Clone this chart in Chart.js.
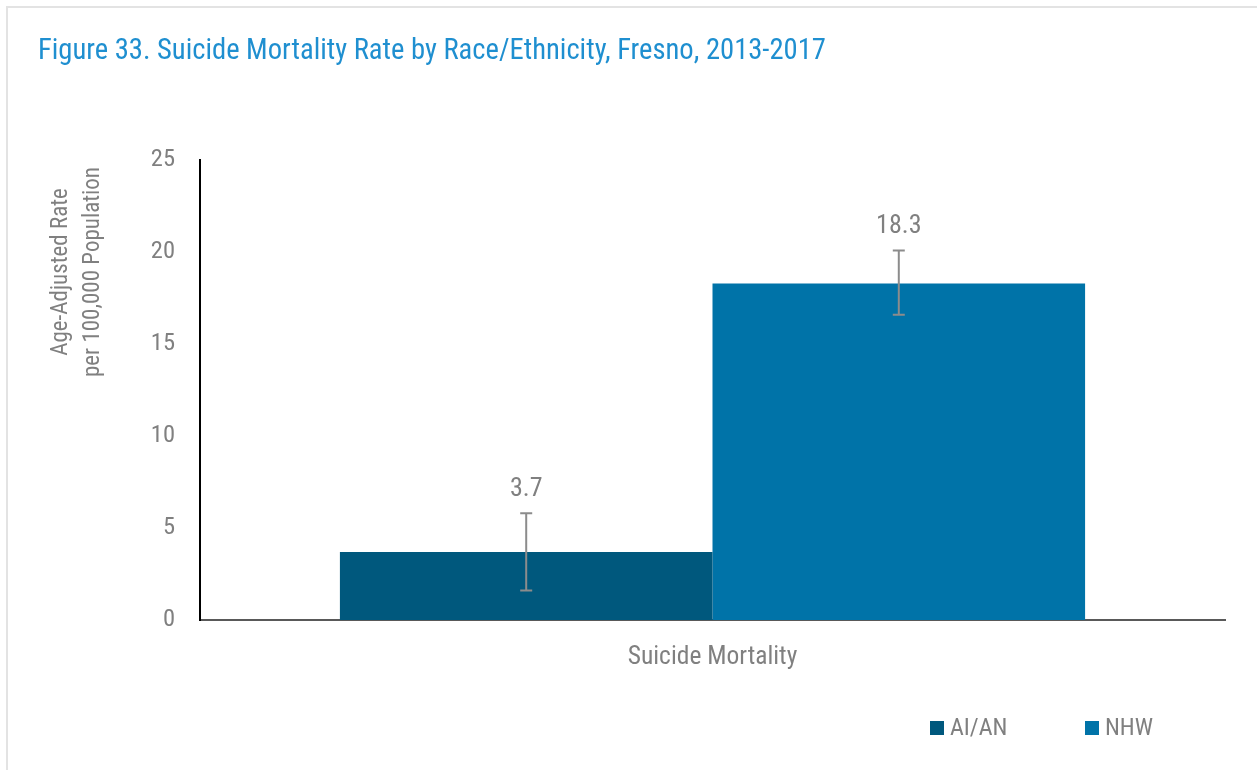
<!DOCTYPE html>
<html>
<head>
<meta charset="utf-8">
<script src="https://cdn.jsdelivr.net/npm/chart.js@4/dist/chart.umd.min.js"></script>
<style>
    body { margin: 0; background: #fff; }
    #wrap { position: relative; width: 1257px; height: 770px; }
    #frame { position: absolute; left: 6px; top: 6px; right: 0; bottom: 0;
             border-left: 2px solid #e3e3e3; border-top: 2px solid #e3e3e3; }
    canvas { position: absolute; left: 0; top: 0; }
</style>
</head>
<body>
<div id="wrap">
    <div id="frame"></div>
    <canvas id="chart" width="1257" height="770"></canvas>
</div>
<script>
const FONT = "'Roboto Condensed', 'Liberation Sans Narrow', 'Arial Narrow', sans-serif";
const GREY = "#808080";

// data
const categories = ["Suicide Mortality"];
const groups = ["AI/AN", "NHW"];
const rates = [3.7, 18.3];
const lowerCI = [1.6, 16.6];
const upperCI = [5.8, 20.1];
const groupColors = ["#00587d", "#0073a8"];
const yTicks = [0, 5, 10, 15, 20, 25];
const yTitle = ["Age-Adjusted Rate", "per 100,000 Population"];

const datasets = groups.map((g, i) => ({
    label: g,
    data: [rates[i]],
    backgroundColor: groupColors[i],
    low: lowerCI[i],
    high: upperCI[i],
    categoryPercentage: 0.727,
    barPercentage: 1.0,
}));

// error bars + value labels above them
const errorBars = {
    id: "errorBars",
    afterDatasetsDraw(chart) {
        const ctx = chart.ctx;
        const y = chart.scales.y;
        chart.data.datasets.forEach((ds, i) => {
            const bar = chart.getDatasetMeta(i).data[0];
            const x = bar.x;
            const top = y.getPixelForValue(ds.high);
            const bot = y.getPixelForValue(ds.low);
            ctx.save();
            ctx.strokeStyle = "#8c8c8c";
            ctx.lineWidth = 2;
            ctx.beginPath();
            ctx.moveTo(x, top); ctx.lineTo(x, bot);
            ctx.moveTo(x - 6, top); ctx.lineTo(x + 6, top);
            ctx.moveTo(x - 6, bot); ctx.lineTo(x + 6, bot);
            ctx.stroke();
            ctx.fillStyle = GREY;
            ctx.font = "26px " + FONT;
            ctx.textAlign = "center";
            ctx.textBaseline = "middle";
            ctx.fillText(ds.data[0].toFixed(1), x, top - 24);
            ctx.restore();
        });
    }
};

// y axis title (sits high, not centred on the axis) and legend in the lower right
const extras = {
    id: "extras",
    afterDraw(chart) {
        const ctx = chart.ctx;
        ctx.save();
        ctx.fillStyle = GREY;
        ctx.font = "23px " + FONT;
        ctx.textAlign = "center";
        ctx.textBaseline = "middle";
        ctx.translate(0, 272);
        ctx.rotate(-Math.PI / 2);
        ctx.fillText(yTitle[0], 0, 61);
        ctx.fillText(yTitle[1], 0, 93);
        ctx.restore();

        const starts = [930, 1085];
        ctx.save();
        ctx.font = "24px " + FONT;
        ctx.textBaseline = "middle";
        chart.data.datasets.forEach((ds, i) => {
            ctx.fillStyle = ds.backgroundColor;
            ctx.fillRect(starts[i], 721, 14, 14);
            ctx.fillStyle = GREY;
            ctx.fillText(ds.label, starts[i] + 20, 729);
        });
        ctx.restore();
    }
};

new Chart(document.getElementById("chart"), {
    type: "bar",
    data: { labels: categories, datasets: datasets },
    plugins: [errorBars, extras],
    options: {
        responsive: false,
        animation: false,
        layout: { padding: { left: 38, right: 32, top: 0, bottom: 0 } },
        plugins: {
            legend: { display: false },
            tooltip: { enabled: false },
            title: {
                display: true,
                text: "Figure 33. Suicide Mortality Rate by Race/Ethnicity, Fresno, 2013-2017",
                align: "start",
                color: "#1f8fd0",
                font: { family: FONT, size: 28.6, weight: "normal" },
                padding: { top: 35, bottom: 91 },
            },
        },
        scales: {
            x: {
                grid: { display: false, drawTicks: false },
                border: { color: "#595959", width: 2 },
                ticks: { color: GREY, font: { family: FONT, size: 25.5 }, padding: 22 },
                afterFit(s) { s.height = 150; },
            },
            y: {
                min: 0,
                max: 25,
                afterBuildTicks(s) { s.ticks = yTicks.map(v => ({ value: v })); },
                grid: { display: false, drawTicks: false },
                border: { color: "#000", width: 2 },
                ticks: { color: GREY, font: { family: FONT, size: 24.5 }, padding: 25 },
                afterFit(s) { s.width = 162; },
            },
        },
    },
});
</script>
</body>
</html>
